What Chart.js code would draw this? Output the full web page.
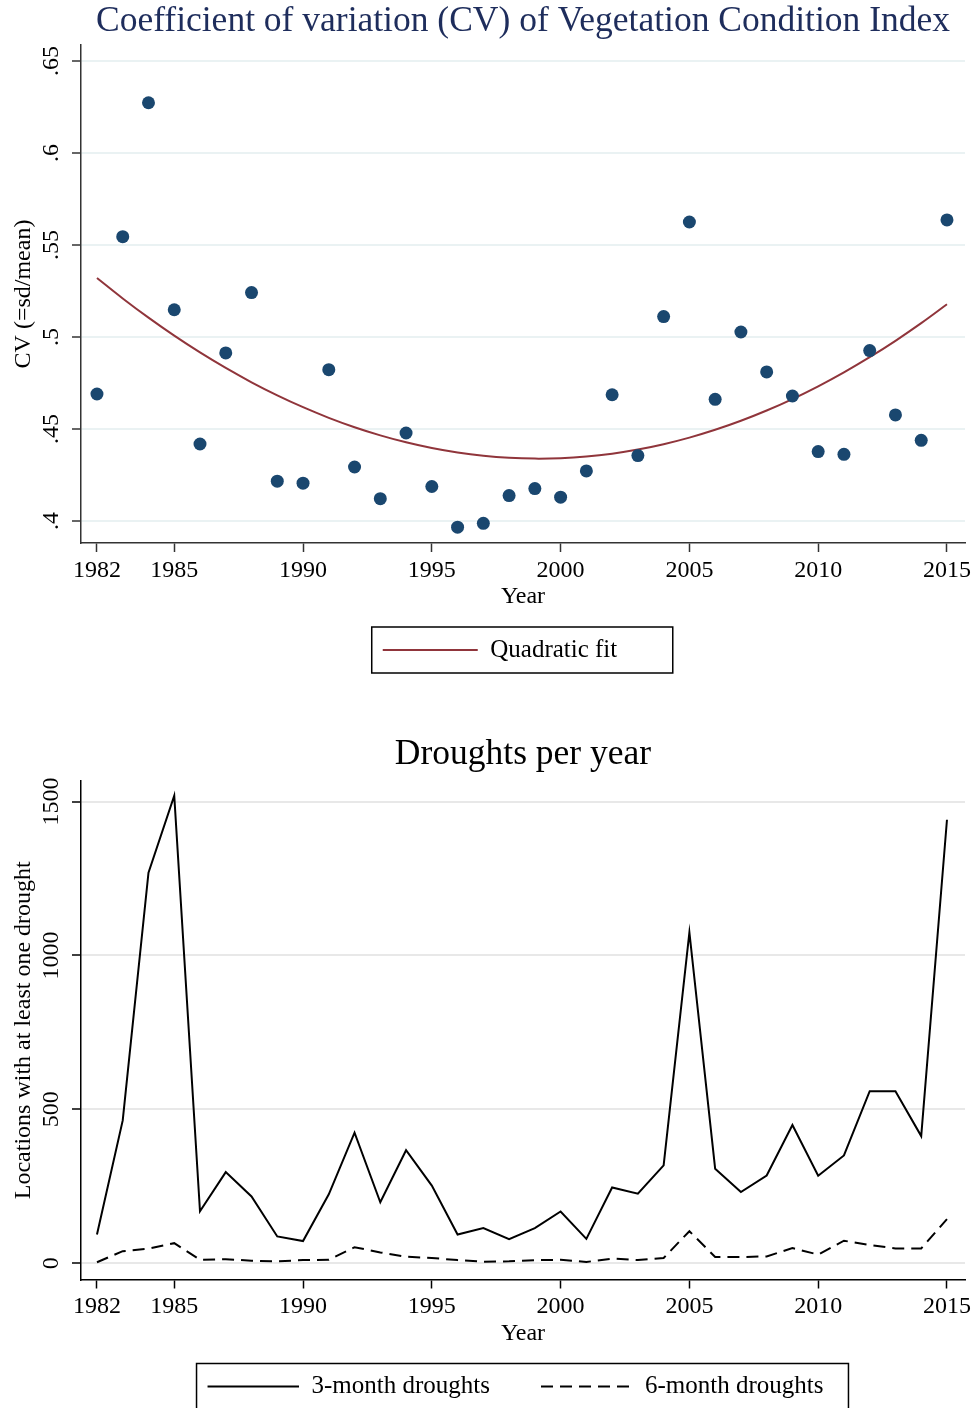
<!DOCTYPE html>
<html>
<head>
<meta charset="utf-8">
<script src="https://cdn.jsdelivr.net/npm/chart.js@4.4.1/dist/chart.umd.min.js"></script>
<style>
  html, body { margin: 0; padding: 0; background: #fff; overflow: hidden; }
  canvas { display: block; }
</style>
</head>
<body>
<canvas id="cvChart" width="976" height="700"></canvas>
<canvas id="droughtChart" width="976" height="750"></canvas>
<script>
const years = [1982, 1983, 1984, 1985, 1986, 1987, 1988, 1989, 1990, 1991, 1992, 1993,
  1994, 1995, 1996, 1997, 1998, 1999, 2000, 2001, 2002, 2003, 2004, 2005, 2006, 2007,
  2008, 2009, 2010, 2011, 2012, 2013, 2014, 2015];

// CV of VCI, one value per year
const cvValues = [0.469, 0.5545, 0.6273, 0.5148, 0.4418, 0.4913, 0.5241, 0.4216, 0.4205,
  0.4822, 0.4293, 0.4121, 0.4478, 0.4187, 0.3966, 0.3987, 0.4138, 0.4176, 0.4129, 0.4272,
  0.4686, 0.4355, 0.5111, 0.5625, 0.4661, 0.5027, 0.481, 0.4679, 0.4377, 0.4362, 0.4926,
  0.4576, 0.4438, 0.5636];

// locations with at least one drought
const drought3 = [93, 464, 1269, 1519, 169, 296, 217, 87, 72, 224, 424, 198, 367, 252, 93,
  114, 78, 114, 168, 79, 246, 226, 318, 1075, 307, 231, 285, 449, 284, 350, 559, 559, 413, 1441];
const drought6 = [3, 39, 47, 65, 11, 13, 8, 6, 10, 11, 52, 35, 21, 17, 10, 5, 6, 10, 11, 4,
  15, 10, 17, 104, 20, 20, 22, 49, 28, 73, 59, 48, 48, 143];

const yearTicks = [1982, 1985, 1990, 1995, 2000, 2005, 2010, 2015];
const cvTicks = [0.4, 0.45, 0.5, 0.55, 0.6, 0.65];
const droughtTicks = [0, 500, 1000, 1500];

// least squares quadratic through the CV points
function quadFit(xs, ys) {
  const m = xs.reduce((a, b) => a + b, 0) / xs.length;
  const S = [0, 0, 0, 0, 0], T = [0, 0, 0];
  xs.forEach((x, i) => {
    const t = x - m;
    for (let k = 0; k < 5; k++) S[k] += Math.pow(t, k);
    for (let k = 0; k < 3; k++) T[k] += Math.pow(t, k) * ys[i];
  });
  const M = [[S[0], S[1], S[2]], [S[1], S[2], S[3]], [S[2], S[3], S[4]]];
  const det3 = A => A[0][0] * (A[1][1] * A[2][2] - A[1][2] * A[2][1])
    - A[0][1] * (A[1][0] * A[2][2] - A[1][2] * A[2][0])
    + A[0][2] * (A[1][0] * A[2][1] - A[1][1] * A[2][0]);
  const D = det3(M);
  const coef = [0, 1, 2].map(c => det3(M.map((row, r) => row.map((v, j) => (j === c ? T[r] : v)))) / D);
  return xs.map(x => coef[0] + coef[1] * (x - m) + coef[2] * (x - m) * (x - m));
}
const cvFit = quadFit(years, cvValues);

Chart.defaults.font.family = "'Liberation Serif', 'Times New Roman', serif";
Chart.defaults.color = '#000';
Chart.defaults.animation = false;

// stata-like legend: nudge it, then draw a frame round it
const legendFrame = {
  id: 'legendFrame',
  afterLayout(chart, args, opts) {
    const lg = chart.legend;
    lg.left += opts.dx; lg.right += opts.dx;
    lg.top += opts.dy; lg.bottom += opts.dy;
  },
  afterDraw(chart, args, opts) {
    const boxes = chart.legend.legendHitBoxes;
    if (!boxes || !boxes.length) return;
    const left = Math.min(...boxes.map(b => b.left)) - opts.padLeft;
    const right = Math.max(...boxes.map(b => b.left + b.width)) + opts.padRight;
    const top = boxes[0].top - opts.padY;
    const bottom = boxes[0].top + boxes[0].height + opts.padY;
    const ctx = chart.ctx;
    ctx.save();
    ctx.strokeStyle = '#000';
    ctx.lineWidth = 1.5;
    ctx.strokeRect(left, top, right - left, bottom - top);
    ctx.restore();
  }
};

function yearAxis(lineColor) {
  return {
    type: 'linear',
    min: 1981.38,
    max: 2015.7,
    afterBuildTicks: s => { s.ticks = yearTicks.map(v => ({ value: v })); },
    afterFit: s => { s.height = 84.5; },
    ticks: { font: { size: 24 }, color: '#000', padding: 4, maxRotation: 0, autoSkip: false,
      callback: v => String(v) },
    grid: { drawOnChartArea: false, drawTicks: true, tickLength: 9, tickColor: lineColor, tickWidth: 1.5 },
    border: { display: true, color: lineColor, width: 1.5 },
    title: { display: true, text: 'Year', font: { size: 24 }, color: '#000', padding: { top: 0, bottom: 16 } }
  };
}

// flat (zero height) legend boxes so the key is a line, dashed where the series is
function legendOpts(boxWidth, padding) {
  return {
    position: 'bottom',
    fullSize: false,
    labels: {
      font: { size: 25 },
      color: '#000',
      boxWidth: boxWidth,
      boxHeight: 0,
      padding: padding
    }
  };
}

// top: CV scatter with quadratic fit
const cvLegend = legendOpts(95, 10);
cvLegend.labels.filter = item => item.datasetIndex === 1;

new Chart(document.getElementById('cvChart'), {
  type: 'scatter',
  data: {
    datasets: [
      {
        label: 'CV',
        data: years.map((y, i) => ({ x: y, y: cvValues[i] })),
        backgroundColor: '#1a476f',
        borderWidth: 0,
        pointRadius: 6.5
      },
      {
        type: 'line',
        label: 'Quadratic fit',
        data: years.map((y, i) => ({ x: y, y: cvFit[i] })),
        borderColor: '#90353b',
        backgroundColor: '#90353b',
        borderWidth: 2,
        pointRadius: 0,
        tension: 0.4,
        fill: false
      }
    ]
  },
  options: {
    responsive: false,
    layout: { padding: { left: 0, right: 11, top: 0, bottom: 27.5 } },
    plugins: {
      title: {
        display: true,
        text: 'Coefficient of variation (CV) of Vegetation Condition Index',
        color: '#1e2d5c',
        font: { size: 35.5, weight: 'normal' },
        fullSize: false,
        padding: { top: 0, bottom: 2.4 }
      },
      legend: cvLegend,
      tooltip: { enabled: false },
      legendFrame: { dx: -23, dy: 0, padLeft: 11, padRight: 55.5, padY: 10.5 }
    },
    scales: {
      x: yearAxis('#333'),
      y: {
        min: 0.388,
        max: 0.6587,
        afterBuildTicks: s => { s.ticks = cvTicks.map(v => ({ value: v })); },
        afterFit: s => { s.width = 81; },
        ticks: { font: { size: 24 }, color: '#000', minRotation: 90, maxRotation: 90, crossAlign: 'center',
          padding: 5, callback: v => String(+v.toFixed(2)).replace(/^0/, '') },
        grid: { color: '#eaf2f3', lineWidth: 2, tickColor: '#333', tickLength: 9, tickWidth: 1.5 },
        border: { color: '#333', width: 1.5 },
        title: { display: true, text: 'CV (=sd/mean)', font: { size: 24 }, color: '#000', padding: { top: 9, bottom: 0 } }
      }
    }
  },
  plugins: [legendFrame]
});

// bottom: droughts per year
new Chart(document.getElementById('droughtChart'), {
  type: 'line',
  data: {
    datasets: [
      {
        label: '3-month droughts',
        data: years.map((y, i) => ({ x: y, y: drought3[i] })),
        borderColor: '#000',
        backgroundColor: '#000',
        borderWidth: 2,
        pointRadius: 0,
        tension: 0,
        fill: false
      },
      {
        label: '6-month droughts',
        data: years.map((y, i) => ({ x: y, y: drought6[i] })),
        borderColor: '#000',
        backgroundColor: '#000',
        borderWidth: 2,
        borderDash: [12, 7],
        pointRadius: 0,
        tension: 0,
        fill: false
      }
    ]
  },
  options: {
    responsive: false,
    layout: { padding: { left: 0, right: 11, top: 33.7, bottom: 0 } },
    plugins: {
      title: {
        display: true,
        text: 'Droughts per year',
        color: '#000',
        font: { size: 35.5, weight: 'normal' },
        fullSize: false,
        padding: { top: 0, bottom: 4.7 }
      },
      legend: legendOpts(91.5, 51),
      tooltip: { enabled: false },
      legendFrame: { dx: -7.5, dy: -41, padLeft: 11, padRight: 25, padY: 10.5 }
    },
    scales: {
      x: yearAxis('#000'),
      y: {
        min: -53,
        max: 1567,
        afterBuildTicks: s => { s.ticks = droughtTicks.map(v => ({ value: v })); },
        afterFit: s => { s.width = 81; },
        ticks: { font: { size: 24 }, color: '#000', minRotation: 90, maxRotation: 90, crossAlign: 'center',
          padding: -4, callback: v => String(v) },
        grid: { color: '#e8e8e8', lineWidth: 2, tickColor: '#000', tickLength: 9, tickWidth: 1.5 },
        border: { color: '#000', width: 1.5 },
        title: { display: true, text: 'Locations with at least one drought', font: { size: 24 }, color: '#000',
          padding: { top: 9, bottom: 0 } }
      }
    }
  },
  plugins: [legendFrame]
});
</script>
</body>
</html>
